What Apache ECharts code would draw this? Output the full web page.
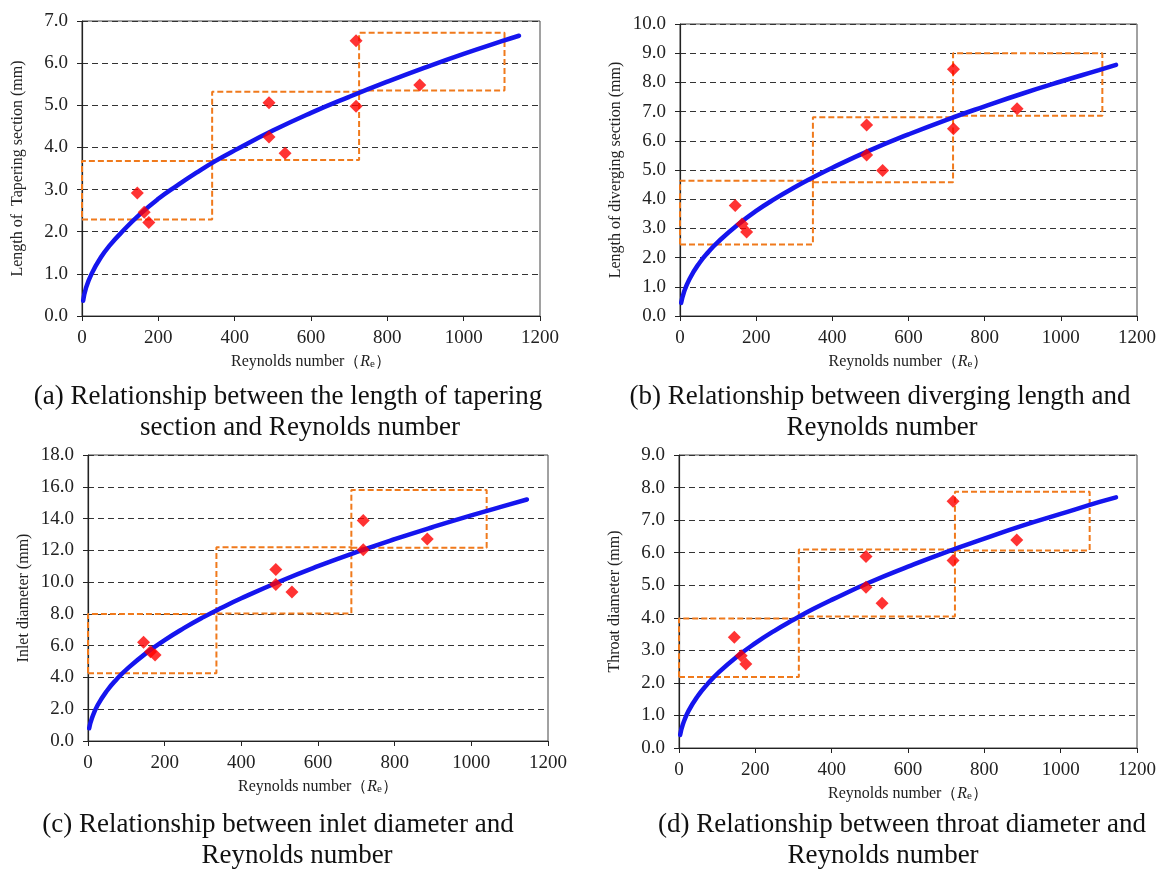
<!DOCTYPE html>
<html>
<head>
<meta charset="utf-8">
<script src="https://cdn.jsdelivr.net/npm/echarts@6/dist/echarts.min.js"></script>
<style>
html,body{margin:0;padding:0;background:#fff;}
#chart{width:1159px;height:870px;}
</style>
</head>
<body>
<div id="chart"></div>
<script>
// ---- data ----
const X_TICKS = [0, 200, 400, 600, 800, 1000, 1200];
const RE = [145, 163, 175, 490, 490, 532, 718, 718, 885];

const TAPER   = [2.92, 2.46, 2.22, 5.06, 4.25, 3.86, 6.53, 4.98, 5.48];
const DIVERGE = [3.78, 3.15, 2.88, 6.54, 5.51, 4.98, 8.45, 6.41, 7.10];
const INLET   = [6.21, 5.62, 5.41, 10.79, 9.85, 9.37, 13.88, 12.04, 12.71];
const THROAT  = [3.40, 2.83, 2.58, 5.88, 4.94, 4.45, 7.58, 5.76, 6.39];

// fitted curves (at these Reynolds numbers)
const FIT_X       = [3, 10, 25, 50, 75, 100, 150, 200, 250, 300, 350, 400, 500, 600, 700, 800, 900, 1000, 1100, 1145];
const FIT_TAPER   = [0.36, 0.65, 1.00, 1.40, 1.70, 1.95, 2.40, 2.78, 3.10, 3.40, 3.68, 3.93, 4.40, 4.82, 5.20, 5.56, 5.90, 6.22, 6.52, 6.65];
const FIT_DIVERGE = [0.45, 0.80, 1.27, 1.80, 2.20, 2.54, 3.11, 3.60, 4.02, 4.40, 4.75, 5.08, 5.68, 6.22, 6.72, 7.18, 7.62, 8.03, 8.42, 8.60];
const FIT_INLET   = [0.80, 1.42, 2.25, 3.18, 3.89, 4.49, 5.50, 6.35, 7.10, 7.78, 8.40, 8.98, 10.04, 11.00, 11.88, 12.70, 13.47, 14.20, 14.89, 15.20];
const FIT_THROAT  = [0.40, 0.72, 1.14, 1.61, 1.97, 2.28, 2.79, 3.22, 3.60, 3.94, 4.26, 4.55, 5.09, 5.57, 6.02, 6.43, 6.83, 7.19, 7.55, 7.70];

// dashed range boxes: [xStart, xEnd, yLow, yHigh]
const BOX_TAPER   = [[0, 341, 2.29, 3.68], [341, 726, 3.70, 5.32], [726, 1107, 5.35, 6.72]];
const BOX_DIVERGE = [[0, 349, 2.45, 4.63], [349, 717, 4.58, 6.81], [717, 1109, 6.86, 9.00]];
const BOX_INLET   = [[0, 335, 4.27, 7.99], [335, 687, 8.03, 12.20], [687, 1040, 12.17, 15.80]];
const BOX_THROAT  = [[0, 314, 2.18, 3.98], [314, 723, 4.04, 6.10], [723, 1076, 6.07, 7.87]];

const Y_NAMES = ['Length of  Tapering section (mm)', 'Length of diverging section (mm)', 'Inlet diameter (mm)', 'Throat diameter (mm)'];
const Y_MAX = [7, 10, 18, 9];
const Y_STEP = [1, 1, 2, 1];
const CAPTIONS = [
  ['(a) Relationship between the length of tapering', 'section and Reynolds number'],
  ['(b) Relationship between diverging length and', 'Reynolds number'],
  ['(c) Relationship between inlet diameter and', 'Reynolds number'],
  ['(d) Relationship between throat diameter and', 'Reynolds number']
];

// ---- layout ----
const GRIDS = [
  {left: 82, top: 21, width: 458, height: 295},
  {left: 680, top: 24, width: 457, height: 292},
  {left: 88, top: 455, width: 460, height: 286},
  {left: 679, top: 455, width: 458, height: 293}
];
const CAP_POS = [
  [[288, 397], [300, 428]],
  [[880, 397], [882, 428]],
  [[278, 825], [297, 856]],
  [[902, 825], [883, 856]]
];

const SERIF = '"Liberation Serif","Times New Roman",serif';
const POINTS = [TAPER, DIVERGE, INLET, THROAT];
const FITS = [FIT_TAPER, FIT_DIVERGE, FIT_INLET, FIT_THROAT];
const BOXES = [BOX_TAPER, BOX_DIVERGE, BOX_INLET, BOX_THROAT];

const grid = [], xAxis = [], yAxis = [], series = [], graphic = [];

for (let i = 0; i < 4; i++) {
  grid.push(Object.assign({show: true, borderColor: '#444', borderWidth: 1, backgroundColor: 'transparent'}, GRIDS[i]));
  xAxis.push({
    gridIndex: i, type: 'value', min: X_TICKS[0], max: X_TICKS[X_TICKS.length - 1], interval: X_TICKS[1] - X_TICKS[0],
    axisLine: {show: true, lineStyle: {color: '#222', width: 1.2}},
    axisTick: {show: true, length: 5, lineStyle: {color: '#222'}},
    splitLine: {show: false},
    axisLabel: {color: '#222', fontFamily: SERIF, fontSize: 19, margin: 13, formatter: v => String(v)},
    name: '{n|Reynolds number（}{i|R}{s|e}{n|）}',
    nameLocation: 'middle', nameGap: 37,
    nameTextStyle: {
      fontFamily: SERIF, fontSize: 16, color: '#222',
      rich: {
        n: {fontFamily: SERIF, fontSize: 16, color: '#222'},
        i: {fontFamily: SERIF, fontSize: 16, fontStyle: 'italic', color: '#222'},
        s: {fontFamily: SERIF, fontSize: 11, color: '#222', verticalAlign: 'bottom', padding: [6, 0, 0, 0]}
      }
    }
  });
  yAxis.push({
    gridIndex: i, type: 'value', min: 0, max: Y_MAX[i], interval: Y_STEP[i],
    axisLine: {show: true, lineStyle: {color: '#222', width: 1.2}},
    axisTick: {show: true, length: 5, lineStyle: {color: '#222'}},
    splitLine: {show: true, lineStyle: {color: '#333', type: [6, 4], width: 1.2}},
    axisLabel: {color: '#222', fontFamily: SERIF, fontSize: 19, margin: 14, formatter: v => v.toFixed(1)},
    name: Y_NAMES[i], nameLocation: 'middle', nameGap: 56,
    nameTextStyle: {fontFamily: SERIF, fontSize: 16, color: '#222'}
  });
  BOXES[i].forEach(b => {
    series.push({
      type: 'line', xAxisIndex: i, yAxisIndex: i, silent: true, symbol: 'none', z: 2,
      lineStyle: {color: '#F07A1C', width: 2, type: [6, 3]},
      data: [[b[0], b[2]], [b[1], b[2]], [b[1], b[3]], [b[0], b[3]], [b[0], b[2]]]
    });
  });
  series.push({
    type: 'line', xAxisIndex: i, yAxisIndex: i, symbol: 'none', smooth: true, z: 3,
    lineStyle: {color: '#1515EE', width: 4.5, cap: 'round'},
    data: FIT_X.map((x, k) => [x, FITS[i][k]])
  });
  series.push({
    type: 'scatter', xAxisIndex: i, yAxisIndex: i, symbol: 'diamond', symbolSize: 13, z: 4,
    itemStyle: {color: '#FF0000'},
    data: RE.map((x, k) => [x, POINTS[i][k]])
  });
  CAPTIONS[i].forEach((t, j) => {
    graphic.push({
      type: 'text', x: CAP_POS[i][j][0], y: CAP_POS[i][j][1],
      style: {text: t, font: '27px ' + SERIF, fill: '#111', textAlign: 'center', textVerticalAlign: 'middle'}
    });
  });
}

const chart = echarts.init(document.getElementById('chart'));
chart.setOption({animation: false, backgroundColor: '#fff', grid, xAxis, yAxis, series, graphic});
</script>
</body>
</html>
